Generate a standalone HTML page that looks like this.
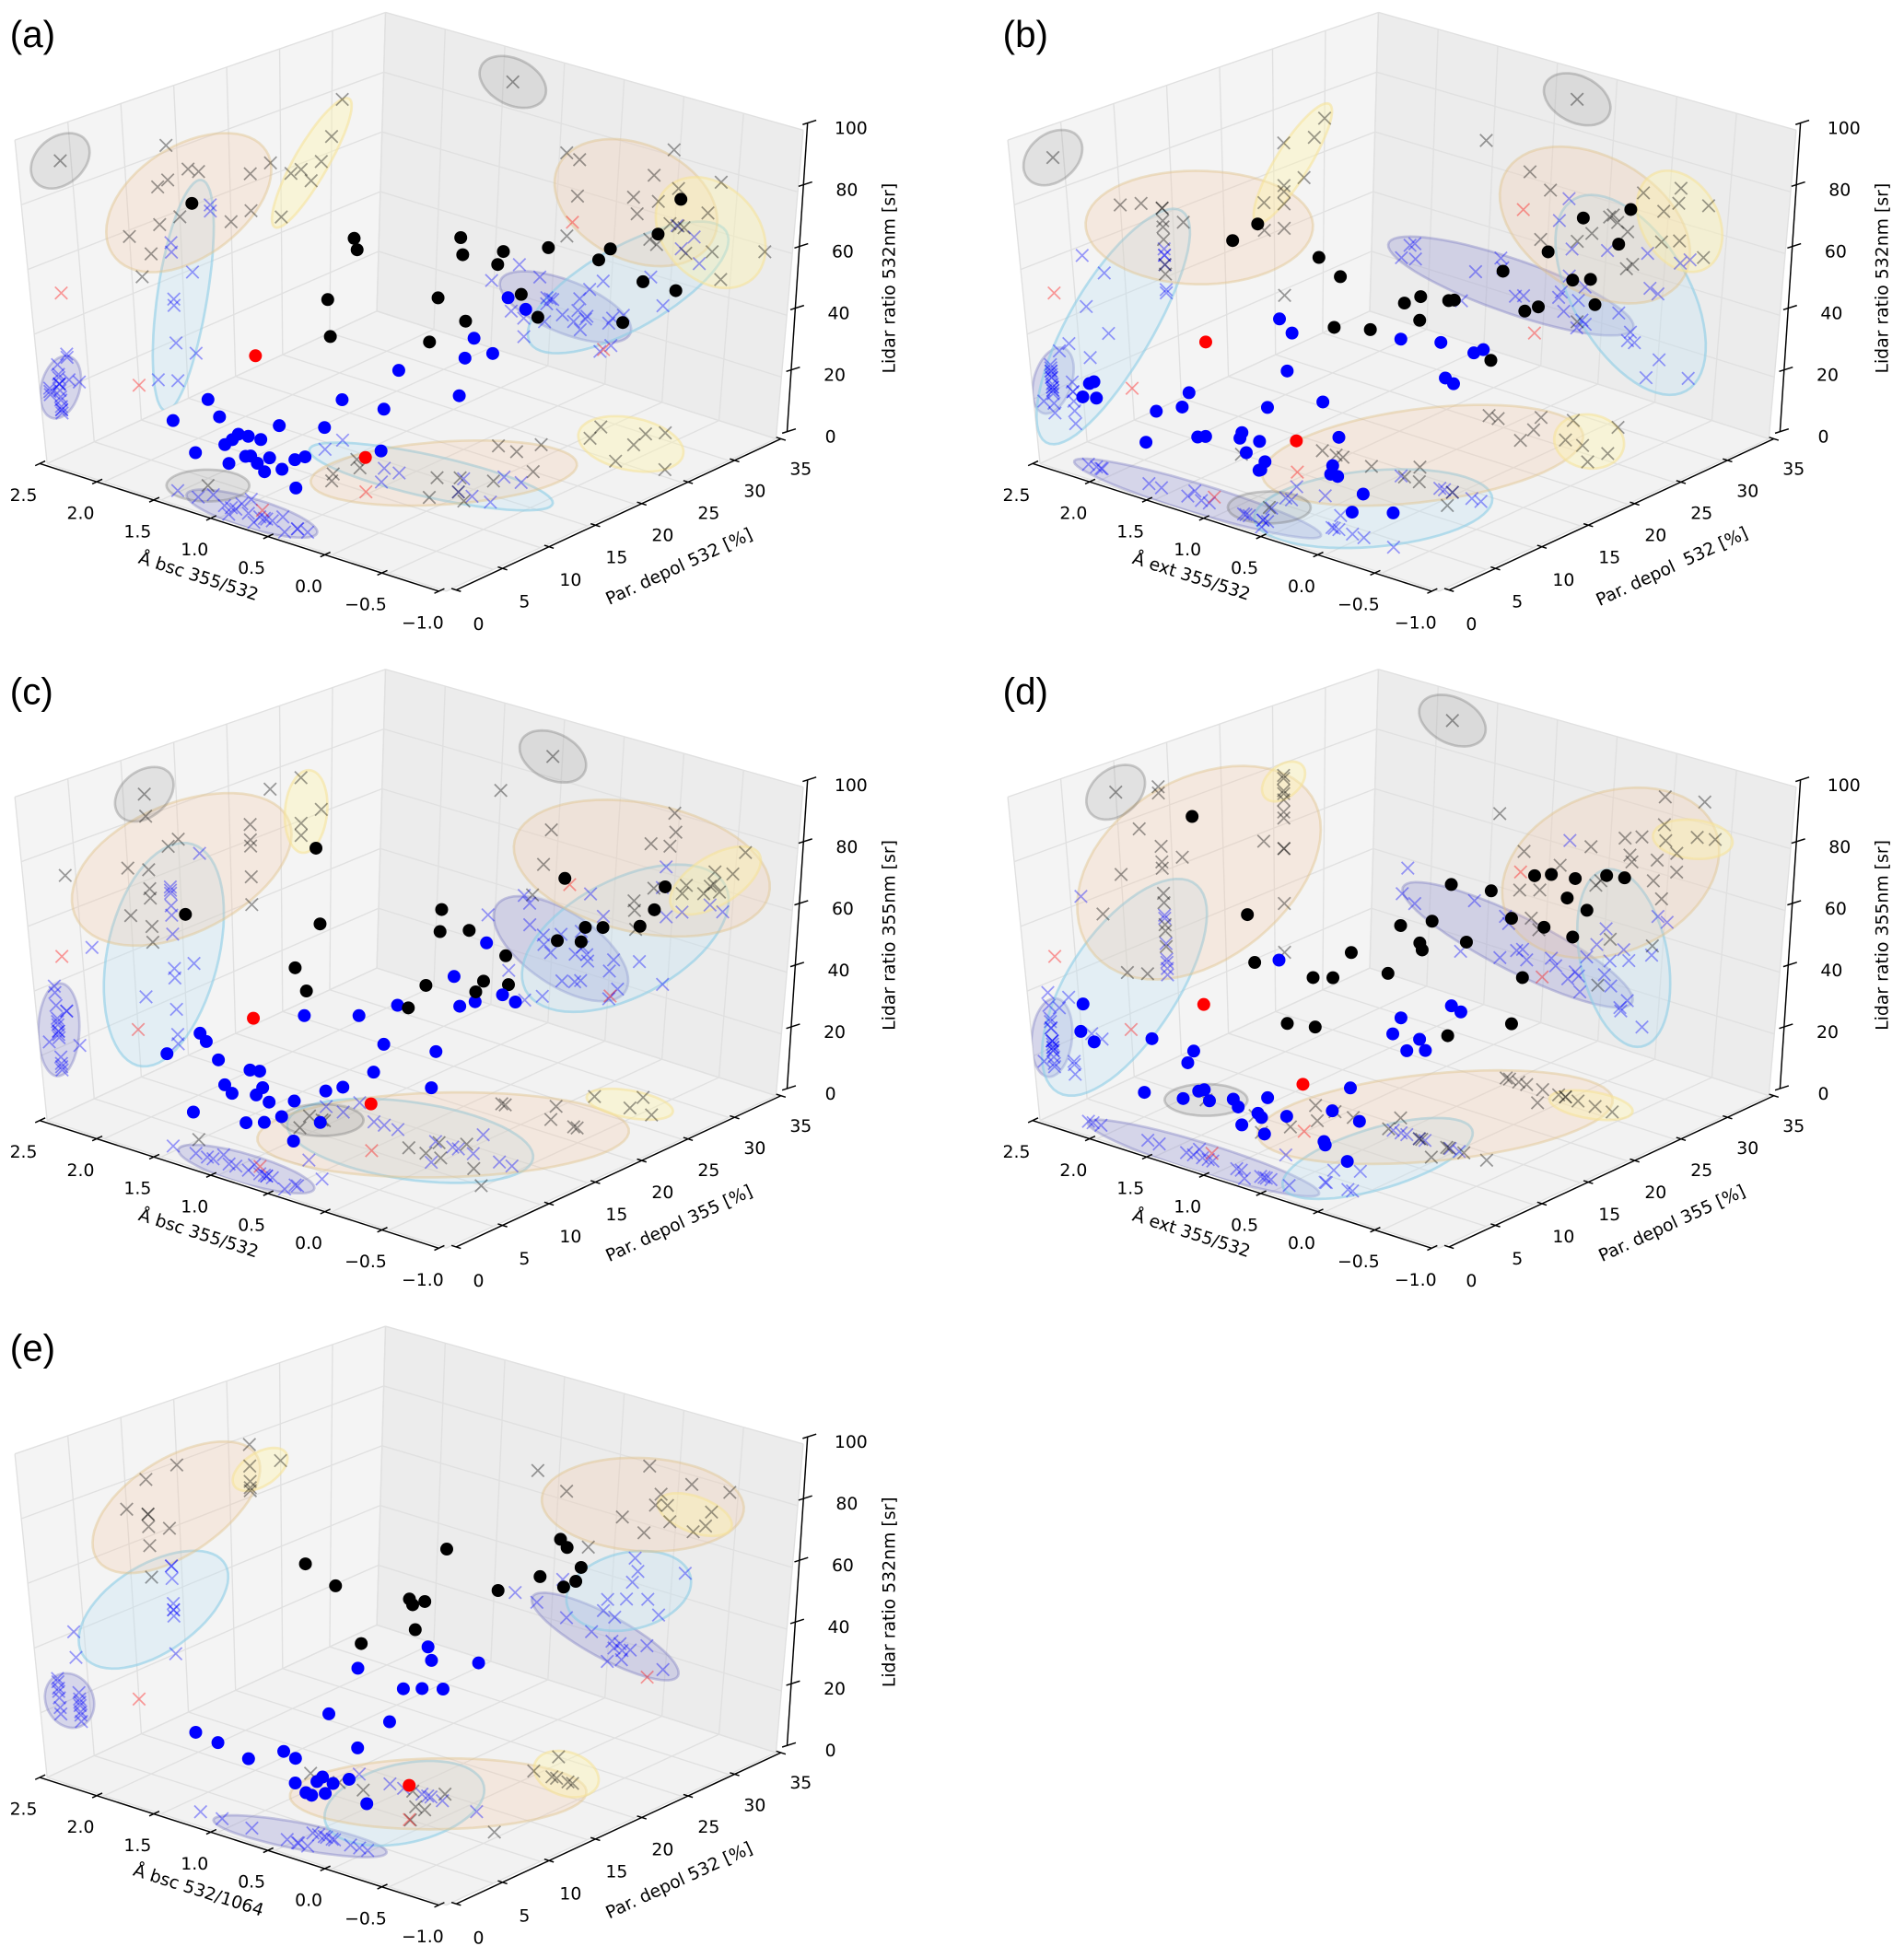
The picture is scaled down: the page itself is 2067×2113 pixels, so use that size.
<!DOCTYPE html>
<html><head><meta charset="utf-8"><title>3D scatter panels</title>
<style>html,body{margin:0;padding:0;background:#fff;}svg{display:block;}</style></head>
<body>
<svg id="fig" xmlns="http://www.w3.org/2000/svg" width="2067" height="2113" viewBox="0 0 1536 1570" preserveAspectRatio="none"></svg>
<script>
// ---------- data: [Angstrom, depol %, lidar ratio sr] ----------
const aBlack=[[1.42,4,89],[0.83,10,58],[0.94,14,71],[0.83,13,70],[0.90,11,44],[0.14,12,50],[0.32,15,58],[0.05,14,82],[0.20,16,72],[-0.08,13,58],[-0.01,17,70],[0.36,22,63],[0.20,22,51],[-0.11,20,50],[0.15,24,64],[-0.03,27,58],[0.04,29,58],[-0.42,25,45],[-0.33,28,53],[-0.27,30,65],[-0.36,31,76],[-0.77,26,58]];
const aBlackCls=['g','o','o','o','o','o','o','o','o','o','o','o','o','o','o','y','y','y','y','y','y','y'];
const aBlue=[[1.52,2,22],[1.29,3,30],[1.11,2,28],[0.99,1,22],[1.01,2,22],[1.04,3,22],[1.34,2,14],[0.90,2,18],[0.77,1,21],[0.76,2,25],[0.68,3,29],[0.80,2,17],[0.69,2,20],[0.50,1,20],[0.47,2,22],[0.38,2,24],[0.47,2,13],[0.74,2,15],[1.04,4,20],[1.05,2,14],[0.57,14,33],[-0.07,14,51],[0.05,14,31],[0.17,16,39],[-0.23,14,48],[-0.02,18,58],[-0.17,18,56],[0.70,14,19],[0.56,12,10],[1.22,14,7],[1.23,16,13]];
const aBlueCls=['p','p','p','p','p','p','p','p','p','p','p','p','p','p','p','p','p','p','p','p','c','c','c','c','c','c','c','c','c','c','c'];
const aRed=[[0.86,3,49],[0.53,10,11]];

const bBlack=[[1.56,10,68],[0.82,4,90],[1.18,14,62],[1.00,14,58],[1.06,14,41],[0.75,14,44],[0.46,14,56],[0.33,14,52],[0.49,16,55],[-0.08,12,66],[0.04,14,62],[0.71,26,18],[0.63,26,48],[0.27,24,42],[0.32,26,40],[0.42,28,54],[0.04,26,52],[0.22,29,66],[-0.11,26,54],[-0.32,24,51],[-0.33,26,68],[-0.09,30,71]];
const bBlackCls=['o','g','o','o','o','o','o','o','o','o','o','o','o','o','o','o','y','y','y','y','y','y'];
const bBlue=[[2.17,2,26],[2.13,2,27],[2.24,2,21],[2.12,2,22],[1.60,2,24],[1.71,2,13],[1.37,2,28],[1.39,3,31],[1.25,2,20],[1.18,2,21],[0.88,2,24],[0.86,2,26],[0.83,2,20],[0.64,1,18],[0.71,2,16],[0.67,2,19],[0.80,4,32],[0.71,2,25],[0.84,6,57],[0.79,6,41],[0.91,8,49],[0.49,14,44],[0.15,14,47],[0.11,14,36],[0.04,14,35],[-0.13,14,47],[-0.21,14,49],[0.09,4,7],[-0.01,4,14],[-0.27,4,11],[0.36,6,25],[0.25,4,20],[0.27,4,17],[0.21,4,17],[0.66,8,30]];
const bBlueCls=['p','p','p','p','p','p','p','p','p','p','p','p','p','p','p','p','p','p','c','c','c','c','c','c','c','c','c','c','c','c','c','c','c','c','c'];
const bRed=[[1.22,3,49],[1.07,10,10]];

const cBlack=[[1.50,4,71],[1.08,12,87],[1.06,12,63],[1.11,10,51],[1.19,12,40],[0.22,14,68],[0.17,12,54],[0.32,12,45],[0.04,12,80],[0.06,15,69],[-0.25,12,57],[-0.48,10,66],[0.33,22,48],[0.30,22,39],[0.02,24,74],[-0.10,22,58],[-0.33,22,65],[-0.07,27,55],[-0.30,22,60],[-0.38,27,59],[-0.57,27,74],[-0.33,29,61]];
const cBlackCls=['o','g','o','o','o','o','o','o','o','o','o','o','o','o','o','o','o','y','o','y','y','y'];
const cBlue=[[1.56,2,29],[1.26,2,39],[1.21,2,37],[1.20,3,30],[1.07,2,25],[1.01,2,23],[0.76,2,33],[0.93,3,30],[0.74,2,28],[0.80,2,25],[0.69,2,24],[0.50,1,23],[0.47,2,27],[1.36,2,13],[0.90,2,15],[0.74,2,17],[0.49,2,14],[0.70,6,46],[1.21,14,5],[1.06,14,8],[1.08,16,28],[0.70,14,26],[0.79,14,16],[0.58,14,40],[0.05,14,46],[-0.08,14,49],[0.08,17,62],[-0.31,14,54],[-0.42,14,53],[0.04,11,24],[0.25,14,29],[0.10,14,55],[0.42,4,18]];
const cBlueCls=['p','p','p','p','p','p','p','p','p','p','p','p','p','p','p','p','p','c','c','c','c','c','c','c','c','c','c','c','c','c','c','c','c'];
const cRed=[[0.88,3,47],[0.48,10,15]];

const dBlack=[[1.87,10,90],[1.44,10,64],[1.22,8,54],[1.13,10,33],[1.24,14,41],[1.06,12,30],[1.07,14,43],[0.91,14,53],[0.60,14,50],[0.66,16,62],[0.33,14,63],[0.31,14,61],[0.06,12,76],[0.07,14,85],[-0.06,14,68],[-0.26,14,87],[0.56,26,52],[0.45,26,34],[0.53,26,18],[0.09,14,36],[0.38,26,68],[0.24,26,70],[0.12,24,57],[0.10,26,64],[0.04,26,71],[-0.07,26,62],[-0.22,26,75],[-0.37,26,76],[0.04,26,52]];
const dBlackCls=['g','o','o','o','o','o','o','o','o','o','o','o','o','o','o','o','o','o','o','o','o','o','o','o','y','o','y','y','o'];
const dBlue=[[2.20,2,37],[2.24,2,28],[2.13,2,26],[1.62,2,33],[1.72,2,15],[1.32,2,29],[1.35,3,31],[1.38,2,17],[1.24,2,21],[1.15,2,19],[1.19,2,22],[0.94,2,22],[0.90,2,20],[0.79,1,17],[0.73,2,20],[0.68,2,14],[0.70,2,19],[0.64,2,26],[0.48,2,22],[0.84,6,62],[0.33,4,13],[0.32,4,12],[0.42,6,19],[0.13,4,9],[0.27,7,16],[0.09,4,33],[0.56,14,31],[0.49,14,37],[0.44,14,27],[0.28,14,29],[0.33,14,32],[0.06,14,46],[-0.02,14,45]];
const dBlueCls=['p','p','p','p','p','p','p','p','p','p','p','p','p','p','p','p','p','p','p','c','c','c','c','c','c','c','c','c','c','c','c','c','c'];
const dRed=[[1.24,3,47],[1.01,10,15]];

const eBlack=[[1.18,12,67],[0.93,12,63],[0.14,10,71],[0.18,12,67],[0.26,12,57],[0.45,14,60],[0.25,15,79],[-0.43,12,78],[0.72,12,47],[0.05,22,63],[-0.11,22,77],[-0.15,22,62],[0.08,25,68],[-0.25,22,65],[-0.29,22,70]];
const eBlackCls=['o','o','o','o','o','o','o','o','o','o','o','o','y','y','y'];
const eBlue=[[1.32,2,25],[1.13,2,24],[0.87,2,22],[0.56,2,28],[0.46,2,27],[0.47,2,19],[0.38,2,17],[0.45,4,17],[0.40,4,19],[0.31,4,18],[0.50,4,12],[0.38,4,14],[0.17,4,21],[0.02,4,15],[0.09,4,32],[0.33,4,40],[0.92,14,34],[0.65,14,20],[0.53,14,32],[0.37,14,34],[0.19,14,36],[0.32,14,48],[0.29,14,44],[-0.11,14,48]];
const eBlueCls=['p','p','p','p','p','p','p','p','p','p','p','p','p','p','c','c','c','c','c','c','c','c','c','c'];
const eRed=[[0.15,10,11]];

const angTicks=[2.5,2.0,1.5,1.0,0.5,0.0,-0.5,-1.0];
const depTicks=[0,5,10,15,20,25,30,35];
const lrTicks=[0,20,40,60,80,100];

// ---------- rendering ----------
const NS='http://www.w3.org/2000/svg';
const svg=document.getElementById('fig');
const CLS={g:{f:'rgba(128,128,128,0.17)',s:'rgba(100,100,100,0.30)'},o:{f:'rgba(245,190,150,0.22)',s:'rgba(225,195,140,0.45)'},y:{f:'rgba(255,245,170,0.38)',s:'rgba(245,225,150,0.55)'},c:{f:'rgba(190,225,245,0.30)',s:'rgba(140,205,230,0.60)'},p:{f:'rgba(110,110,200,0.22)',s:'rgba(110,110,190,0.35)'}};
const CLSNAME={g:'gray',o:'orange',y:'yellow',c:'cyan',p:'purple'};
function mk(tag,attrs,parent){const el=document.createElementNS(NS,tag);for(const k in attrs)el.setAttribute(k,attrs[k]);parent.appendChild(el);return el;}
function proj(P,A,D,L){const u=(A+1)/3.5,v=D/35,w=L/100;const gx=360-322*u+266*v,gy=477-103*u-123*v;const h=249+12*u-20*u*v;const dx=-26*u*(1-v)+22*v*(1-u)+7*u*v;return [P.ox+gx+w*dx,P.oy+gy-w*h];}
function pts(arr){return arr.map(p=>p[0].toFixed(1)+','+p[1].toFixed(1)).join(' ');}
let clipN=0;

function drawPanel(P){
  const g=mk('g',{},svg);
  
  
  const panes={
    left:[[2.5,0,0],[2.5,35,0],[2.5,35,100],[2.5,0,100]],
    right:[[2.5,35,0],[-1,35,0],[-1,35,100],[2.5,35,100]],
    floor:[[2.5,0,0],[-1,0,0],[-1,35,0],[2.5,35,0]]};
  const paneFill={left:'#f4f4f4',right:'#ececec',floor:'#f2f2f2'};
  const clipIds={};
  for(const k in panes){
    const poly=panes[k].map(c=>proj(P,c[0],c[1],c[2]));
    const pg=mk('polygon',{points:pts(poly),fill:paneFill[k],stroke:'none'},g);
    
    
    const id='clip'+(clipN++);
    const cp=mk('clipPath',{id:id},g);
    mk('polygon',{points:pts(poly)},cp);
    clipIds[k]=id;
  }
  const grid=mk('g',{stroke:'#e0e0e0','stroke-width':1,fill:'none'},g);
  
  
  const line=(a,b)=>{const p=proj(P,...a),q=proj(P,...b);return mk('line',{x1:p[0],y1:p[1],x2:q[0],y2:q[1]},grid);};
  depTicks.forEach(d=>{line([2.5,d,0],[2.5,d,100]);line([2.5,d,0],[-1,d,0]);});
  lrTicks.forEach(l=>{line([2.5,0,l],[2.5,35,l]);line([2.5,35,l],[-1,35,l]);});
  angTicks.forEach(a=>{line([a,35,0],[a,35,100]);line([a,0,0],[a,35,0]);});
  const members={};
  P.black.forEach((p,i)=>{(members[P.blackCls[i]]=members[P.blackCls[i]]||[]).push(p);});
  P.blue.forEach((p,i)=>{(members[P.blueCls[i]]=members[P.blueCls[i]]||[]).push(p);});
  const paneMap={
    left:{pq:p=>[p[1]/35,p[2]/100],back:(a,b)=>[2.5,a*35,b*100]},
    right:{pq:p=>[(p[0]+1)/3.5,p[2]/100],back:(a,b)=>[-1+a*3.5,35,b*100]},
    floor:{pq:p=>[(p[0]+1)/3.5,p[1]/35],back:(a,b)=>[-1+a*3.5,b*35,0]}};
  const eg=mk('g',{},g);
  
  
  ['p','c','o','y','g'].forEach(cl=>{
    const m=members[cl];if(!m)return;
    for(const k in paneMap){
      const q=m.map(paneMap[k].pq);
      const n=q.length;let mp=0,mq=0;q.forEach(t=>{mp+=t[0];mq+=t[1];});mp/=n;mq/=n;
      let a=0,b=0,c=0;q.forEach(t=>{a+=(t[0]-mp)**2;b+=(t[0]-mp)*(t[1]-mq);c+=(t[1]-mq)**2;});
      let r1,r2,th;
      if(n<2){r1=r2=0.08;th=0;}else{a/=n;b/=n;c/=n;const tr=(a+c)/2,dd=Math.sqrt(((a-c)/2)**2+b*b);
        r1=Math.min(0.36,Math.max(0.06,1.9*Math.sqrt(tr+dd)));r2=Math.max(0.06,1.9*Math.sqrt(Math.max(0,tr-dd)));th=0.5*Math.atan2(2*b,a-c);}
      const path=[];
      for(let i=0;i<64;i++){const t=i/64*2*Math.PI;const pp=mp+r1*Math.cos(t)*Math.cos(th)-r2*Math.sin(t)*Math.sin(th);const qq=mq+r1*Math.cos(t)*Math.sin(th)+r2*Math.sin(t)*Math.cos(th);path.push(proj(P,...paneMap[k].back(pp,qq)));}
      const el=mk('polygon',{points:pts(path),fill:CLS[cl].f,stroke:CLS[cl].s,'stroke-width':2,'clip-path':'url(#'+clipIds[k]+')'},eg);
      
      
    }
  });
  const cg=mk('g',{'stroke-width':1.3,fill:'none'},g);
  
  
  const cross=(p,col,nm)=>{const s=5;const el=mk('path',{d:`M${(p[0]-s).toFixed(1)},${(p[1]-s).toFixed(1)}L${(p[0]+s).toFixed(1)},${(p[1]+s).toFixed(1)}M${(p[0]-s).toFixed(1)},${(p[1]+s).toFixed(1)}L${(p[0]+s).toFixed(1)},${(p[1]-s).toFixed(1)}`,stroke:col},cg);
    
    };
  const sets=[[P.blue,'rgba(0,0,255,0.38)','blue'],[P.black,'rgba(0,0,0,0.38)','black'],[P.red,'rgba(255,0,0,0.38)','red']];
  sets.forEach(s=>s[0].forEach(p=>{
    cross(proj(P,2.5,p[1],p[2]),s[1],s[2]+'-cross-left');
    cross(proj(P,p[0],35,p[2]),s[1],s[2]+'-cross-right');
    cross(proj(P,p[0],p[1],0),s[1],s[2]+'-cross-floor');
  }));
  const dots=[];
  P.blue.forEach(p=>dots.push([p,'#0000ff','blue-point']));
  P.black.forEach(p=>dots.push([p,'#000000','black-point']));
  P.red.forEach(p=>dots.push([p,'#ff0000','red-point']));
  dots.sort((x,y)=>((y[0][0]+1)/3.5+y[0][1]/35)-((x[0][0]+1)/3.5+x[0][1]/35));
  const dg=mk('g',{},g);
  
  
  dots.forEach(d=>{const s=proj(P,...d[0]);const el=mk('circle',{cx:s[0].toFixed(1),cy:s[1].toFixed(1),r:5.2,fill:d[1]},dg);
    
    });
  const ax=mk('g',{stroke:'#000','stroke-width':1.1,fill:'none'},g);
  
  
  const tx=mk('g',{'font-family':'"DejaVu Sans","Liberation Sans",sans-serif','font-size':14,fill:'#000','text-anchor':'middle'},g);
  
  
  const L=(p,q)=>mk('line',{x1:p[0].toFixed(1),y1:p[1].toFixed(1),x2:q[0].toFixed(1),y2:q[1].toFixed(1)},ax);
  const T=(x,y,s,rot,nm)=>{const el=mk('text',{x:x.toFixed(1),y:y.toFixed(1),'dominant-baseline':'central',transform:rot?`rotate(${rot} ${x.toFixed(1)} ${y.toFixed(1)})`:''},tx);el.textContent=s;
    
    return el;};
  const fmt=v=>(v<0?'\u2212':'')+Math.abs(v).toFixed(1);
  let p0=proj(P,2.5,0,0),p1=proj(P,-1,0,0);
  const xl=L([p0[0]-6,p0[1]],[p1[0]-6,p1[1]]);
  
  
  angTicks.forEach(a=>{const p=proj(P,a,0,0);const c=[p[0]-6,p[1]];L([c[0]-3.6,c[1]+1.7],[c[0]+4.5,c[1]-2.1]);T(p[0]-19,p[1]+26,fmt(a),0,'x-tick-label');});
  depTicks.forEach(d=>{const v=d/35;const p=proj(P,-1,d,0);const c=[p[0]+8-4*v,p[1]-1+v];L([c[0]-3.8,c[1]-1.2],[c[0]+3.8,c[1]+1.2]);T(p[0]+26-6*v,p[1]+27-2*v,String(d),0,'y-tick-label');});
  p0=proj(P,-1,0,0);p1=proj(P,-1,35,0);
  const yl=L([p0[0]+8,p0[1]-1],[p1[0]+4,p1[1]]);
  
  
  p0=proj(P,-1,35,0);p1=proj(P,-1,35,100);
  const zl=L([p0[0]+9,p0[1]-6],[p1[0]+3.5,p1[1]-6]);
  
  
  lrTicks.forEach(l=>{const w=l/100;const p=proj(P,-1,35,l);const c=[p[0]+9-5.5*w,p[1]-6];L([c[0]-4,c[1]+1.5],[c[0]+7,c[1]-2]);T(c[0]+35,c[1]+5,String(l),0,'z-tick-label');});
  let c=proj(P,0.75,0,0);T(c[0]-39,c[1]+40,P.xl,17.7,'x-axis-title');
  c=proj(P,-1,17.5,0);T(c[0]+55,c[1]+42,P.yl,-24.8,'y-axis-title');
  c=proj(P,-1,35,50);T(c[0]+81,c[1]-5,P.zl,-90,'z-axis-title');
  const lab=mk('text',{x:P.ox+8,y:P.oy+38,'font-family':'"Liberation Sans",sans-serif','font-size':30,fill:'#000'},g);
  lab.textContent='('+P.key+')';
  
  
}

drawPanel({key:'a',ox:0,oy:0,xl:'\u00c5 bsc 355/532',yl:'Par. depol 532 [%]',zl:'Lidar ratio 532nm [sr]',black:aBlack,blackCls:aBlackCls,blue:aBlue,blueCls:aBlueCls,red:aRed});
drawPanel({key:'b',ox:801,oy:0,xl:'\u00c5 ext 355/532',yl:'Par. depol\u00a0 532 [%]',zl:'Lidar ratio 532nm [sr]',black:bBlack,blackCls:bBlackCls,blue:bBlue,blueCls:bBlueCls,red:bRed});
drawPanel({key:'c',ox:0,oy:530,xl:'\u00c5 bsc 355/532',yl:'Par. depol 355 [%]',zl:'Lidar ratio 355nm [sr]',black:cBlack,blackCls:cBlackCls,blue:cBlue,blueCls:cBlueCls,red:cRed});
drawPanel({key:'d',ox:801,oy:530,xl:'\u00c5 ext 355/532',yl:'Par. depol 355 [%]',zl:'Lidar ratio 355nm [sr]',black:dBlack,blackCls:dBlackCls,blue:dBlue,blueCls:dBlueCls,red:dRed});
drawPanel({key:'e',ox:0,oy:1060,xl:'\u00c5 bsc 532/1064',yl:'Par. depol 532 [%]',zl:'Lidar ratio 532nm [sr]',black:eBlack,blackCls:eBlackCls,blue:eBlue,blueCls:eBlueCls,red:eRed});
</script>
</body></html>
